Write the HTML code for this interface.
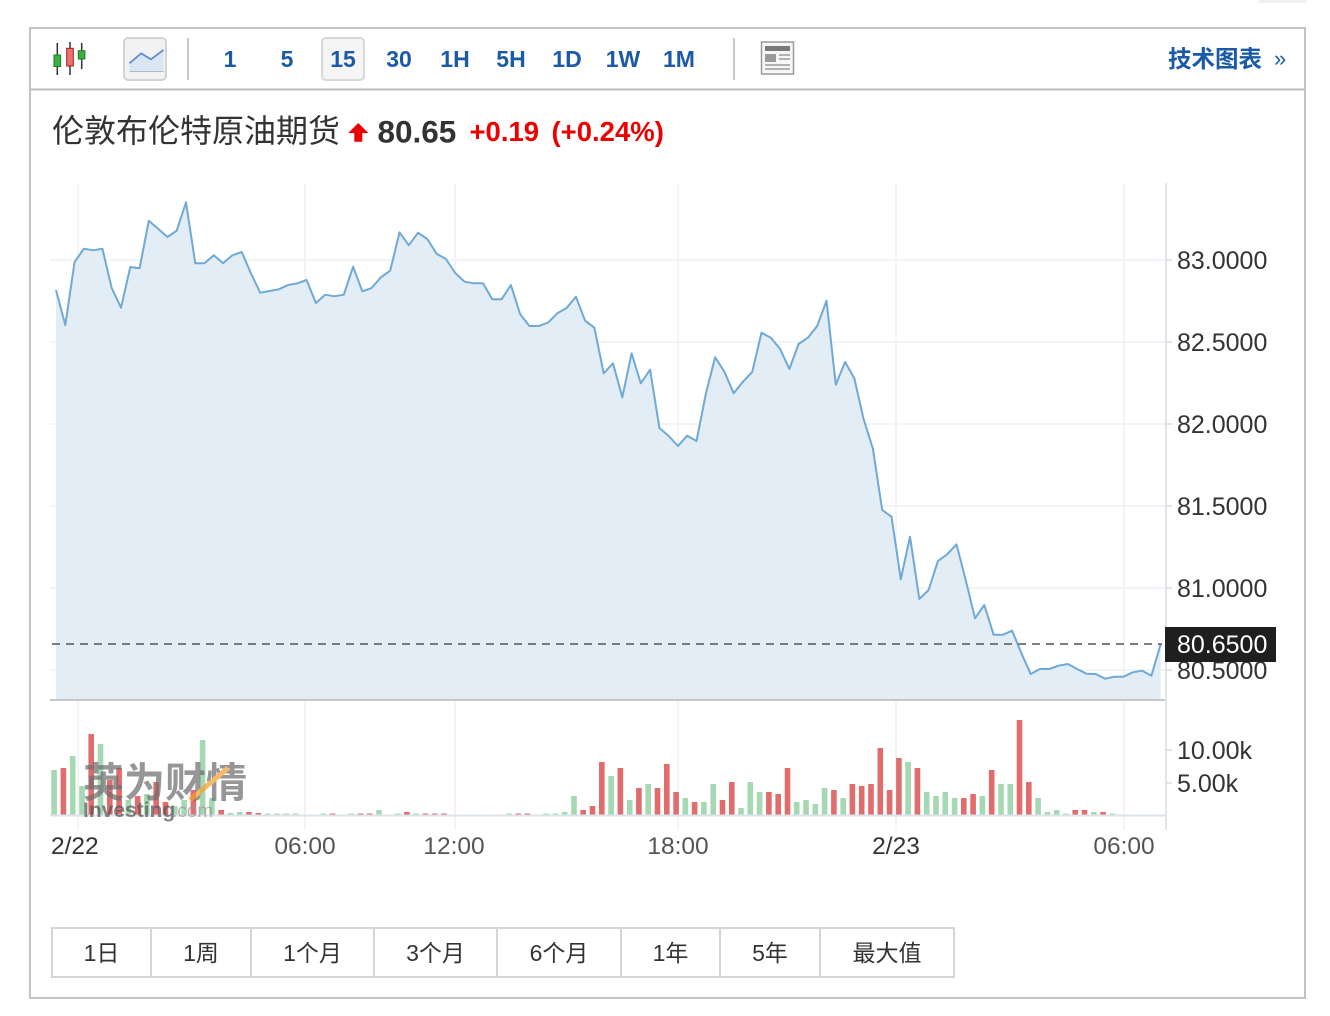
<!DOCTYPE html>
<html><head><meta charset="utf-8"><style>
html,body{margin:0;padding:0;background:#fff;}
svg{display:block;}
.t{font-family:"Liberation Sans","Noto Sans CJK SC",sans-serif;}
</style></head><body>
<svg width="1330" height="1016" viewBox="0 0 1330 1016" xmlns="http://www.w3.org/2000/svg" class="t">
<rect x="0" y="0" width="1330" height="1016" fill="#fff"/>
<rect x="1258" y="0" width="48" height="3" fill="#f0f0f0"/>
<rect x="30" y="28" width="1275" height="970" fill="#fff" stroke="#c4c4c4" stroke-width="2"/>
<line x1="30" y1="89.5" x2="1305" y2="89.5" stroke="#bdbdbd" stroke-width="2"/>

<line x1="57.3" y1="43" x2="57.3" y2="75" stroke="#333" stroke-width="1.5"/>
<rect x="54" y="55" width="6.6" height="11.5" fill="#3cb043" stroke="#1e7a25" stroke-width="1"/>
<line x1="70" y1="42" x2="70" y2="75" stroke="#333" stroke-width="1.5"/>
<rect x="66.7" y="48.3" width="6.6" height="17.7" fill="#f07070" stroke="#a02020" stroke-width="1"/>
<line x1="81.7" y1="43" x2="81.7" y2="69" stroke="#333" stroke-width="1.5"/>
<rect x="78.3" y="50.7" width="6.6" height="8.3" fill="#3cb043" stroke="#1e7a25" stroke-width="1"/>

<rect x="124" y="38" width="42" height="42" rx="4" fill="#f2f2f2" stroke="#d3d3d3" stroke-width="2"/>
<polygon points="129.5,63.3 141.2,53.3 150.9,59.3 163.5,50 163.5,71.5 129.5,71.5" fill="#dbe6f4"/>
<polyline points="129.5,63.3 141.2,53.3 150.9,59.3 163.5,50" fill="none" stroke="#5b8fcf" stroke-width="1.8"/>
<line x1="129.5" y1="71.5" x2="163.5" y2="71.5" stroke="#aab8cc" stroke-width="1"/>

<line x1="188" y1="38" x2="188" y2="80" stroke="#c8c8c8" stroke-width="2"/>
<rect x="322" y="38" width="42" height="42" rx="4" fill="#f5f5f5" stroke="#d8d8d8" stroke-width="2"/>
<g font-size="23" font-weight="bold" fill="#1a5aa6" text-anchor="middle">
<text x="230" y="67">1</text>
<text x="287" y="67">5</text>
<text x="343" y="67">15</text>
<text x="399" y="67">30</text>
<text x="455" y="67">1H</text>
<text x="511" y="67">5H</text>
<text x="567" y="67">1D</text>
<text x="623" y="67">1W</text>
<text x="679" y="67">1M</text>
</g>
<line x1="734" y1="38" x2="734" y2="80" stroke="#c8c8c8" stroke-width="2"/>
<rect x="761.5" y="42" width="32" height="32" fill="#f6f6f6" stroke="#9a9a9a" stroke-width="1.5"/>
<rect x="765" y="46" width="25" height="5" fill="#7a7a7a"/>
<rect x="765" y="54" width="11" height="8" fill="#9a9a9a"/>
<line x1="779" y1="55" x2="790" y2="55" stroke="#9a9a9a" stroke-width="1.5"/>
<line x1="779" y1="59" x2="790" y2="59" stroke="#9a9a9a" stroke-width="1.5"/>
<line x1="765" y1="65" x2="790" y2="65" stroke="#9a9a9a" stroke-width="1.5"/>
<line x1="765" y1="69" x2="790" y2="69" stroke="#9a9a9a" stroke-width="1.5"/>
<text x="1168" y="67" font-size="23.5" font-weight="bold" fill="#1a5aa6">技术图表</text>
<text x="1274" y="66" font-size="22" fill="#1a5aa6">»</text>

<text x="52" y="142" font-size="32" fill="#333">伦敦布伦特原油期货</text>
<polygon points="358.3,123 368.3,133 362.3,133 362.3,141.7 354.3,141.7 354.3,133 348.3,133" fill="#ee0000"/>
<text x="377.5" y="142.3" font-size="31.5" font-weight="bold" fill="#333">80.65</text>
<text x="469.5" y="141" font-size="27.5" font-weight="bold" fill="#ee0000">+0.19</text>
<text x="551.5" y="141" font-size="27.5" font-weight="bold" fill="#ee0000">(+0.24%)</text>

<g stroke="#eef1f4" stroke-width="1.5">
<line x1="50" y1="260" x2="1165" y2="260"/>
<line x1="50" y1="342" x2="1165" y2="342"/>
<line x1="50" y1="424" x2="1165" y2="424"/>
<line x1="50" y1="506" x2="1165" y2="506"/>
<line x1="50" y1="588" x2="1165" y2="588"/>
<line x1="50" y1="670" x2="1165" y2="670"/>
<line x1="78" y1="183" x2="78" y2="830"/>
<line x1="305" y1="183" x2="305" y2="830"/>
<line x1="455" y1="183" x2="455" y2="830"/>
<line x1="678" y1="183" x2="678" y2="830"/>
<line x1="896" y1="183" x2="896" y2="830"/>
<line x1="1124" y1="183" x2="1124" y2="830"/>
</g>

<polygon fill="#e3edf5" points="56,700 56,290 65.3,325 74.6,262 83.9,248.7 93.1,250.3 102.4,248.7 111.7,288 121,307.7 130.3,267 139.6,268.3 148.8,220.7 158.1,228.7 167.4,237 176.7,230.7 186,202.3 195.3,263.3 204.5,263.3 213.8,255.3 223.1,263.3 232.4,255.3 241.7,252 250.9,273.3 260.2,292.7 269.5,291 278.8,289.3 288.1,285 297.4,283.3 306.6,280 315.9,303 325.2,294.7 334.5,296.3 343.8,294.7 353.1,266.7 362.3,291.3 371.6,288 380.9,277.3 390.2,270.7 399.5,232.3 408.8,245.3 418,232.7 427.3,239 436.6,253.7 445.9,259 455.2,273 464.5,281.7 473.7,283.3 483,283.3 492.3,299.3 501.6,299.3 510.9,285 520.2,314.3 529.4,326 538.7,326 548,322.7 557.3,313.3 566.6,308 575.9,296.7 585.1,320.7 594.4,327.7 603.7,373.3 613,363.3 622.3,397.3 631.6,353.3 640.8,383.3 650.1,369.7 659.4,428 668.7,436 678,446 687.2,435.7 696.5,441 705.8,394 715.1,357.3 724.4,371.7 733.7,393.3 742.9,381.7 752.2,372 761.5,332.7 770.8,337.7 780.1,349 789.4,369 798.6,344 807.9,337.7 817.2,326 826.5,300.7 835.8,384.7 845.1,362 854.3,378.3 863.6,419 872.9,448.7 882.2,510 891.5,516.7 900.8,579.3 910,536.7 919.3,599 928.6,590 937.9,561 947.2,554.3 956.5,544.3 965.7,580 975,618.3 984.3,605 993.6,634.7 1002.9,634.7 1012.2,630.7 1021.4,653.3 1030.7,674 1040,669 1049.3,669 1058.6,665.7 1067.9,664 1077.1,669 1086.4,673.7 1095.7,674 1105,678.7 1114.3,676.7 1123.6,676.7 1132.8,672.3 1142.1,670.7 1151.4,675.7 1160.7,644 1160.7,700"/>
<polyline fill="none" stroke="#6fa9d5" stroke-width="2" stroke-linejoin="round" points="56,290 65.3,325 74.6,262 83.9,248.7 93.1,250.3 102.4,248.7 111.7,288 121,307.7 130.3,267 139.6,268.3 148.8,220.7 158.1,228.7 167.4,237 176.7,230.7 186,202.3 195.3,263.3 204.5,263.3 213.8,255.3 223.1,263.3 232.4,255.3 241.7,252 250.9,273.3 260.2,292.7 269.5,291 278.8,289.3 288.1,285 297.4,283.3 306.6,280 315.9,303 325.2,294.7 334.5,296.3 343.8,294.7 353.1,266.7 362.3,291.3 371.6,288 380.9,277.3 390.2,270.7 399.5,232.3 408.8,245.3 418,232.7 427.3,239 436.6,253.7 445.9,259 455.2,273 464.5,281.7 473.7,283.3 483,283.3 492.3,299.3 501.6,299.3 510.9,285 520.2,314.3 529.4,326 538.7,326 548,322.7 557.3,313.3 566.6,308 575.9,296.7 585.1,320.7 594.4,327.7 603.7,373.3 613,363.3 622.3,397.3 631.6,353.3 640.8,383.3 650.1,369.7 659.4,428 668.7,436 678,446 687.2,435.7 696.5,441 705.8,394 715.1,357.3 724.4,371.7 733.7,393.3 742.9,381.7 752.2,372 761.5,332.7 770.8,337.7 780.1,349 789.4,369 798.6,344 807.9,337.7 817.2,326 826.5,300.7 835.8,384.7 845.1,362 854.3,378.3 863.6,419 872.9,448.7 882.2,510 891.5,516.7 900.8,579.3 910,536.7 919.3,599 928.6,590 937.9,561 947.2,554.3 956.5,544.3 965.7,580 975,618.3 984.3,605 993.6,634.7 1002.9,634.7 1012.2,630.7 1021.4,653.3 1030.7,674 1040,669 1049.3,669 1058.6,665.7 1067.9,664 1077.1,669 1086.4,673.7 1095.7,674 1105,678.7 1114.3,676.7 1123.6,676.7 1132.8,672.3 1142.1,670.7 1151.4,675.7 1160.7,644"/>

<line x1="52" y1="644" x2="1162" y2="644" stroke="#555" stroke-width="1.5" stroke-dasharray="8,6"/>
<line x1="50" y1="700" x2="1166" y2="700" stroke="#c8c8c8" stroke-width="2"/>

<line x1="1166" y1="183" x2="1166" y2="830" stroke="#e0e6ee" stroke-width="2"/>
<g stroke="#d5dce4" stroke-width="1.5">
<line x1="1166" y1="260" x2="1172" y2="260"/>
<line x1="1166" y1="342" x2="1172" y2="342"/>
<line x1="1166" y1="424" x2="1172" y2="424"/>
<line x1="1166" y1="506" x2="1172" y2="506"/>
<line x1="1166" y1="588" x2="1172" y2="588"/>
<line x1="1166" y1="670" x2="1172" y2="670"/>
<line x1="1166" y1="750" x2="1172" y2="750"/>
<line x1="1166" y1="783" x2="1172" y2="783"/>
</g>
<g font-size="25" fill="#333">
<text x="1177" y="269">83.0000</text>
<text x="1177" y="351">82.5000</text>
<text x="1177" y="433">82.0000</text>
<text x="1177" y="515">81.5000</text>
<text x="1177" y="597">81.0000</text>
<text x="1177" y="679">80.5000</text>
<text x="1177" y="759">10.00k</text>
<text x="1177" y="792">5.00k</text>
</g>
<rect x="1165" y="627" width="111" height="35" fill="#1f1f1f"/>
<text x="1177" y="653" font-size="25" fill="#fff">80.6500</text>

<g fill="#a6d8b4">
<rect x="51.3" y="770" width="5.6" height="45"/>
<rect x="69.9" y="756" width="5.6" height="59"/>
<rect x="79.2" y="786" width="5.6" height="29"/>
<rect x="97.7" y="744" width="5.6" height="71"/>
<rect x="125.6" y="800" width="5.6" height="15"/>
<rect x="144.1" y="794" width="5.6" height="21"/>
<rect x="172" y="806" width="5.6" height="9"/>
<rect x="181.3" y="800" width="5.6" height="15"/>
<rect x="199.8" y="740" width="5.6" height="75"/>
<rect x="209.1" y="798" width="5.6" height="17"/>
<rect x="227.7" y="813" width="5.6" height="2"/>
<rect x="237" y="812" width="5.6" height="3"/>
<rect x="264.8" y="813.5" width="5.6" height="1.5"/>
<rect x="274.1" y="813.5" width="5.6" height="1.5"/>
<rect x="283.4" y="813.5" width="5.6" height="1.5"/>
<rect x="292.7" y="813.5" width="5.6" height="1.5"/>
<rect x="320.5" y="813.5" width="5.6" height="1.5"/>
<rect x="348.4" y="813.5" width="5.6" height="1.5"/>
<rect x="376.2" y="810" width="5.6" height="5"/>
<rect x="394.8" y="813.5" width="5.6" height="1.5"/>
<rect x="413.3" y="813.5" width="5.6" height="1.5"/>
<rect x="506.2" y="813.5" width="5.6" height="1.5"/>
<rect x="543.3" y="813.5" width="5.6" height="1.5"/>
<rect x="552.6" y="813.5" width="5.6" height="1.5"/>
<rect x="561.9" y="812" width="5.6" height="3"/>
<rect x="571.2" y="796" width="5.6" height="19"/>
<rect x="608.3" y="776" width="5.6" height="39"/>
<rect x="626.9" y="800" width="5.6" height="15"/>
<rect x="645.4" y="784" width="5.6" height="31"/>
<rect x="682.5" y="798" width="5.6" height="17"/>
<rect x="701.1" y="802" width="5.6" height="13"/>
<rect x="710.4" y="784" width="5.6" height="31"/>
<rect x="738.2" y="808" width="5.6" height="7"/>
<rect x="747.5" y="782" width="5.6" height="33"/>
<rect x="756.8" y="792" width="5.6" height="23"/>
<rect x="793.9" y="802" width="5.6" height="13"/>
<rect x="803.2" y="800" width="5.6" height="15"/>
<rect x="812.5" y="804" width="5.6" height="11"/>
<rect x="821.8" y="788" width="5.6" height="27"/>
<rect x="840.4" y="798" width="5.6" height="17"/>
<rect x="905.3" y="762" width="5.6" height="53"/>
<rect x="923.9" y="792" width="5.6" height="23"/>
<rect x="933.2" y="796" width="5.6" height="19"/>
<rect x="942.5" y="792" width="5.6" height="23"/>
<rect x="951.8" y="798" width="5.6" height="17"/>
<rect x="979.6" y="796" width="5.6" height="19"/>
<rect x="998.2" y="784" width="5.6" height="31"/>
<rect x="1007.5" y="784" width="5.6" height="31"/>
<rect x="1035.3" y="798" width="5.6" height="17"/>
<rect x="1044.6" y="812" width="5.6" height="3"/>
<rect x="1053.9" y="810" width="5.6" height="5"/>
<rect x="1063.1" y="813.5" width="5.6" height="1.5"/>
<rect x="1091" y="812" width="5.6" height="3"/>
<rect x="1109.6" y="813.5" width="5.6" height="1.5"/>
</g>
<g fill="#e06c6c">
<rect x="60.6" y="768" width="5.6" height="47"/>
<rect x="88.4" y="734" width="5.6" height="81"/>
<rect x="107" y="780" width="5.6" height="35"/>
<rect x="116.3" y="768" width="5.6" height="47"/>
<rect x="134.9" y="796" width="5.6" height="19"/>
<rect x="153.4" y="782" width="5.6" height="33"/>
<rect x="162.7" y="802" width="5.6" height="13"/>
<rect x="190.6" y="790" width="5.6" height="25"/>
<rect x="218.4" y="810" width="5.6" height="5"/>
<rect x="246.2" y="812" width="5.6" height="3"/>
<rect x="255.5" y="813" width="5.6" height="2"/>
<rect x="329.8" y="813.5" width="5.6" height="1.5"/>
<rect x="357.6" y="813.5" width="5.6" height="1.5"/>
<rect x="366.9" y="813.5" width="5.6" height="1.5"/>
<rect x="404.1" y="812" width="5.6" height="3"/>
<rect x="422.6" y="813.5" width="5.6" height="1.5"/>
<rect x="431.9" y="813.5" width="5.6" height="1.5"/>
<rect x="441.2" y="813.5" width="5.6" height="1.5"/>
<rect x="515.5" y="813.5" width="5.6" height="1.5"/>
<rect x="524.7" y="813.5" width="5.6" height="1.5"/>
<rect x="580.4" y="810" width="5.6" height="5"/>
<rect x="589.7" y="806" width="5.6" height="9"/>
<rect x="599" y="762" width="5.6" height="53"/>
<rect x="617.6" y="768" width="5.6" height="47"/>
<rect x="636.1" y="788" width="5.6" height="27"/>
<rect x="654.7" y="788" width="5.6" height="27"/>
<rect x="664" y="764" width="5.6" height="51"/>
<rect x="673.3" y="792" width="5.6" height="23"/>
<rect x="691.8" y="802" width="5.6" height="13"/>
<rect x="719.7" y="800" width="5.6" height="15"/>
<rect x="729" y="782" width="5.6" height="33"/>
<rect x="766.1" y="792" width="5.6" height="23"/>
<rect x="775.4" y="794" width="5.6" height="21"/>
<rect x="784.7" y="768" width="5.6" height="47"/>
<rect x="831.1" y="790" width="5.6" height="25"/>
<rect x="849.6" y="784" width="5.6" height="31"/>
<rect x="858.9" y="786" width="5.6" height="29"/>
<rect x="868.2" y="784" width="5.6" height="31"/>
<rect x="877.5" y="748" width="5.6" height="67"/>
<rect x="886.8" y="790" width="5.6" height="25"/>
<rect x="896.1" y="758" width="5.6" height="57"/>
<rect x="914.6" y="768" width="5.6" height="47"/>
<rect x="961" y="798" width="5.6" height="17"/>
<rect x="970.3" y="794" width="5.6" height="21"/>
<rect x="988.9" y="770" width="5.6" height="45"/>
<rect x="1016.7" y="720" width="5.6" height="95"/>
<rect x="1026" y="782" width="5.6" height="33"/>
<rect x="1072.4" y="810" width="5.6" height="5"/>
<rect x="1081.7" y="810" width="5.6" height="5"/>
<rect x="1100.3" y="812" width="5.6" height="3"/>
</g>
<line x1="50" y1="815.5" x2="1166" y2="815.5" stroke="#dce3ea" stroke-width="2"/>

<g opacity="0.72">
<text x="83" y="797" font-size="41" font-weight="bold" fill="#6e6e6e" font-family="Noto Sans CJK SC, sans-serif">英为财情</text>
<line x1="190" y1="800" x2="228" y2="768" stroke="#f0a030" stroke-width="5"/>
<text x="83" y="817" font-size="21" font-weight="bold" fill="#555">Investing</text>
<text x="172" y="817" font-size="19" fill="#999">.com</text>
</g>

<g font-size="24.5" fill="#555">
<text x="51" y="854" fill="#333">2/22</text>
<text x="305" y="854" text-anchor="middle">06:00</text>
<text x="454" y="854" text-anchor="middle">12:00</text>
<text x="678" y="854" text-anchor="middle">18:00</text>
<text x="896" y="854" text-anchor="middle" fill="#333">2/23</text>
<text x="1124" y="854" text-anchor="middle">06:00</text>
</g>

<rect x="52" y="928" width="902" height="49" fill="#fff" stroke="#d5d5d5" stroke-width="2"/>
<g stroke="#d5d5d5" stroke-width="2">
<line x1="151" y1="928" x2="151" y2="977"/>
<line x1="251" y1="928" x2="251" y2="977"/>
<line x1="374" y1="928" x2="374" y2="977"/>
<line x1="497" y1="928" x2="497" y2="977"/>
<line x1="621" y1="928" x2="621" y2="977"/>
<line x1="720" y1="928" x2="720" y2="977"/>
<line x1="820" y1="928" x2="820" y2="977"/>
</g>
<g font-size="23" fill="#333" text-anchor="middle">
<text x="101.5" y="961">1日</text>
<text x="201" y="961">1周</text>
<text x="312.5" y="961">1个月</text>
<text x="435.5" y="961">3个月</text>
<text x="559" y="961">6个月</text>
<text x="670.5" y="961">1年</text>
<text x="770" y="961">5年</text>
<text x="887" y="961">最大值</text>
</g>
</svg>
</body></html>
